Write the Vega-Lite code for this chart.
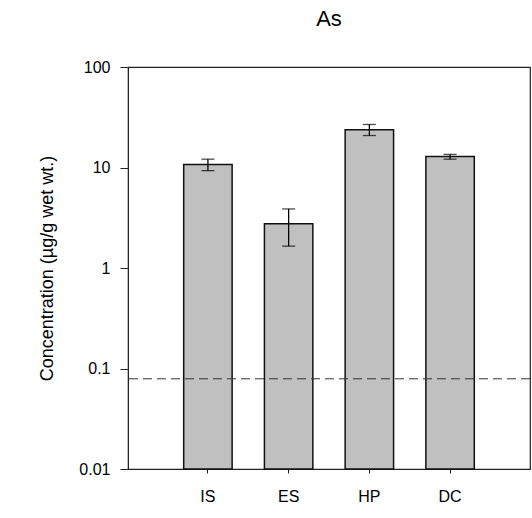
{
  "$schema": "https://vega.github.io/schema/vega-lite/v6.json",
  "autosize": "none",
  "width": 402,
  "height": 402,
  "padding": {"left": 128, "top": 67, "right": 2, "bottom": 49},
  "background": "white",
  "config": {
    "font": "Liberation Sans",
    "view": {"stroke": "#222", "strokeWidth": 1.2},
    "axis": {"grid": false, "domainColor": "#222", "tickColor": "#222", "labelColor": "#000", "titleColor": "#000", "labelFont": "Liberation Sans", "titleFont": "Liberation Sans", "titleFontWeight": "normal"}
  },
  "title": {"text": "As", "fontSize": 22, "fontWeight": "normal", "font": "Liberation Sans", "anchor": "middle", "frame": "group", "offset": 28, "color": "#000"},
  "data": {"values": [
    {"site": "IS", "value": 10.7, "lo": 9.3, "hi": 12.1},
    {"site": "ES", "value": 2.75, "lo": 1.65, "hi": 3.87},
    {"site": "HP", "value": 23.7, "lo": 20.8, "hi": 26.8},
    {"site": "DC", "value": 12.85, "lo": 12.1, "hi": 13.5}
  ]},
  "encoding": {
    "x": {
      "field": "site", "type": "nominal", "sort": null,
      "scale": {"paddingInner": 0.4, "paddingOuter": 0.69},
      "axis": {"title": null, "labelAngle": 0, "labelFontSize": 16, "tickSize": 4, "labelPadding": 15, "domain": true}
    }
  },
  "layer": [
    {
      "mark": {"type": "bar", "fill": "#c0c0c0", "stroke": "#111", "strokeWidth": 1.5},
      "encoding": {
        "y": {
          "field": "value", "type": "quantitative",
          "scale": {"type": "log", "domain": [0.01, 100], "nice": false},
          "axis": {"values": [0.01, 0.1, 1, 10, 100], "format": "~g", "labelFontSize": 16, "tickSize": 8, "labelPadding": 10, "title": "Concentration (µg/g wet wt.)", "titleFontSize": 18, "titleAngle": -90, "titleX": -81, "titleY": 201, "titleAlign": "center", "titleBaseline": "middle"}
        },
        "y2": {"datum": 0.01}
      }
    },
    {
      "mark": {"type": "rule", "color": "#000", "strokeWidth": 1.3},
      "encoding": {"y": {"field": "lo", "type": "quantitative"}, "y2": {"field": "hi"}}
    },
    {
      "mark": {"type": "tick", "color": "#000", "size": 13, "thickness": 1.3},
      "encoding": {"y": {"field": "lo", "type": "quantitative"}}
    },
    {
      "mark": {"type": "tick", "color": "#000", "size": 13, "thickness": 1.3},
      "encoding": {"y": {"field": "hi", "type": "quantitative"}}
    },
    {
      "data": {"values": [{"limit": 0.079}]},
      "mark": {"type": "rule", "color": "#333", "strokeWidth": 1, "strokeDash": [9, 5]},
      "encoding": {"y": {"field": "limit", "type": "quantitative"}, "x": null}
    }
  ]
}
